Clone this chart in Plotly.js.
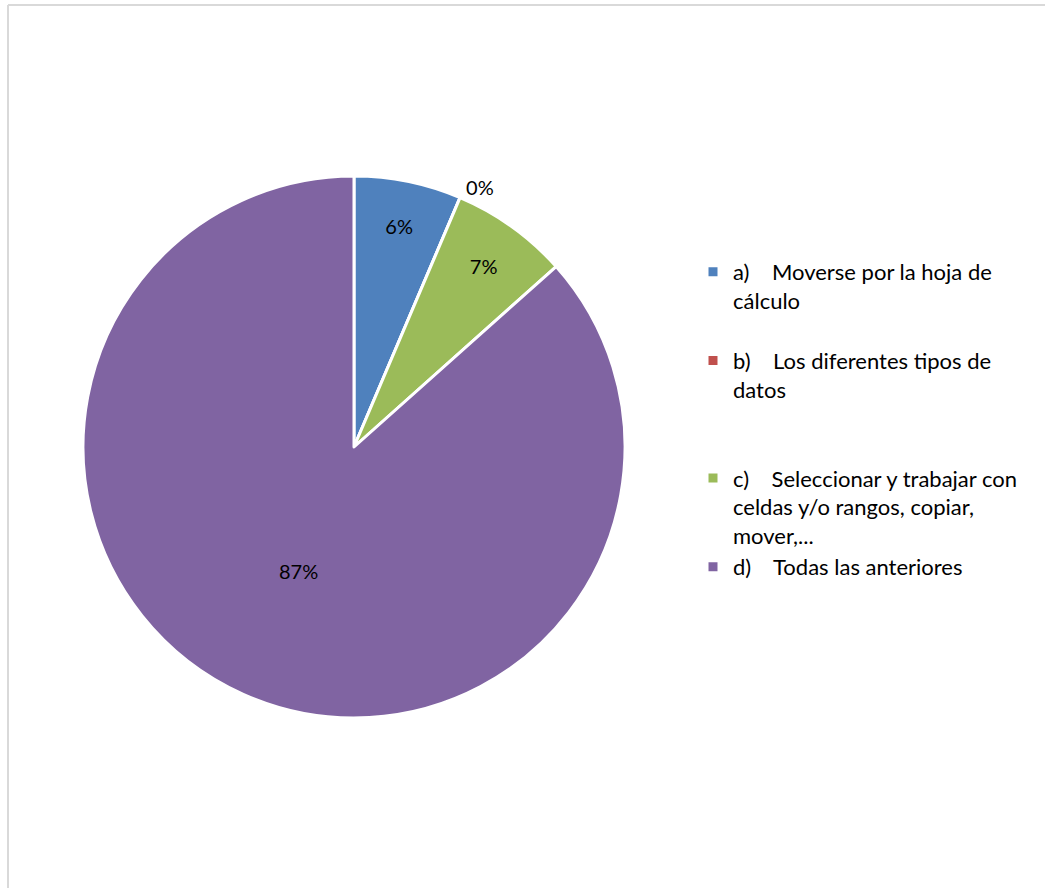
<!DOCTYPE html>
<html>
<head>
<meta charset="utf-8">
<script src="https://cdn.plot.ly/plotly-3.0.1.min.js"></script>
<style>
html,body{margin:0;padding:0;background:#fff;overflow:hidden;}
#chart{width:1045px;height:888px;}
</style>
</head>
<body>
<div id="chart"></div>
<script>
const labels = [
  "a)\u00A0\u00A0\u00A0\u00A0Moverse por la hoja de<br>cálculo<br> ",
  "b)\u00A0\u00A0\u00A0\u00A0Los diferentes tipos de<br>datos<br> <br> ",
  "c)\u00A0\u00A0\u00A0\u00A0Seleccionar y trabajar con<br>celdas y/o rangos, copiar,<br>mover,...",
  "d)\u00A0\u00A0\u00A0\u00A0Todas las anteriores"
];
const values = [6.4, 0, 7.0, 86.6];
const colors = ["#4F81BD", "#C0504D", "#9BBB59", "#8064A2"];

const W = 1045, H = 888;
const trace = {
  type: "pie",
  labels: labels,
  values: values,
  sort: false,
  direction: "clockwise",
  rotation: 0,
  marker: {colors: colors, line: {color: "#ffffff", width: 3}},
  texttemplate: "%{percent:.0%}",
  textposition: ["inside", "outside", "inside", "inside"],
  insidetextorientation: "horizontal",
  textfont: {family: "Lato, 'Open Sans', sans-serif", size: 20, color: "#000000"},
  outsidetextfont: {family: "Lato, 'Open Sans', sans-serif", size: 20, color: "#000000"},
  hoverinfo: "label+percent",
  domain: {x: [(354-271)/W, (354+271)/W], y: [(H-718)/H, (H-176)/H]}
};

const layout = {
  width: W, height: H,
  margin: {l: 0, r: 0, t: 0, b: 0},
  paper_bgcolor: "#ffffff",
  showlegend: true,
  legend: {
    x: 693/W, y: (H-251)/H, xanchor: "left", yanchor: "top",
    valign: "top",
    font: {family: "Lato, 'Open Sans', sans-serif", size: 22, color: "#000000"},
    bgcolor: "rgba(0,0,0,0)"
  },
  shapes: [
    {type: "line", xref: "paper", yref: "paper", x0: 8/W, x1: 1.01, y0: (H-5)/H, y1: (H-5)/H, line: {color: "#d9d9d9", width: 2}},
    {type: "line", xref: "paper", yref: "paper", x0: 8/W, x1: 8/W, y0: -0.01, y1: (H-5)/H, line: {color: "#d9d9d9", width: 2}}
  ]
};

Plotly.newPlot("chart", [trace], layout, {displayModeBar: false, staticPlot: true});
</script>
</body>
</html>
